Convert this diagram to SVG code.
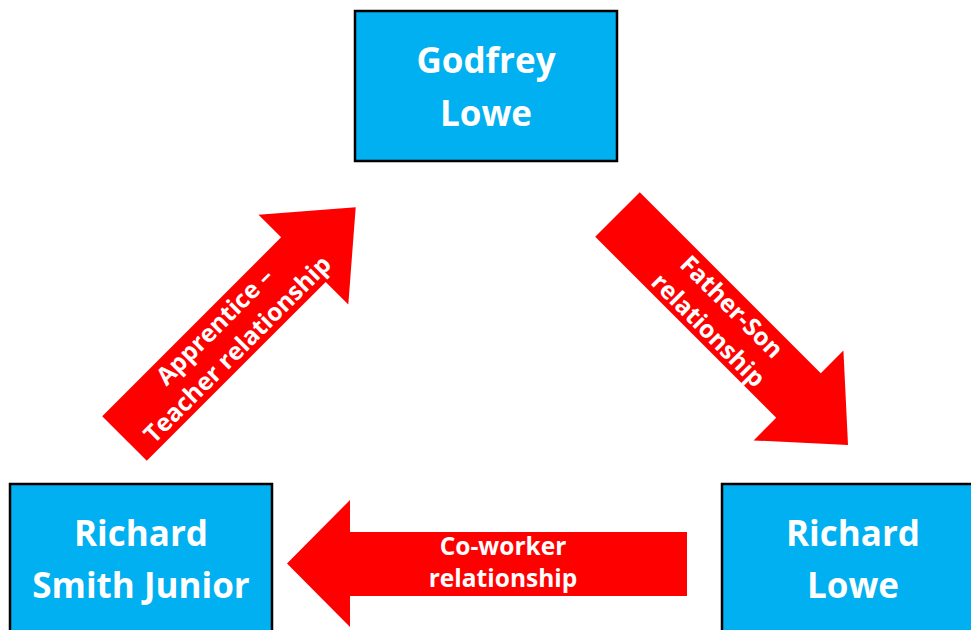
<svg xmlns="http://www.w3.org/2000/svg" width="971" height="630" viewBox="0 0 971 630">
<style>
.box{fill:#00B0F0;stroke:#000;stroke-width:2.5}
.nt{font-family:"Open Sans","Liberation Sans",sans-serif;font-weight:700;font-size:35px;fill:#fff;text-anchor:middle}
.arr{fill:#FF0000}
.at{font-family:"Open Sans","Liberation Sans",sans-serif;font-weight:700;font-size:24.5px;fill:#fff;text-anchor:middle}
</style>
<rect width="971" height="630" fill="#fff"/>
<g id="connectors">
  <g id="arrow-apprentice" transform="translate(124.5,438.5) rotate(-45)">
    <path class="arr" d="M0,-31.5 H253 V-63.5 L327,0 L253,63.5 V31.5 H0 Z"/>
    <text class="at" x="143" y="-7">Apprentice –</text>
    <text class="at" x="143" y="25">Teacher relationship</text>
  </g>
  <g id="arrow-fatherson" transform="translate(617.5,214.5) rotate(45)">
    <path class="arr" d="M0,-31.5 H256 V-63.5 L326,0 L256,63.5 V31.5 H0 Z"/>
    <text class="at" x="146" y="-7">Father-Son</text>
    <text class="at" x="146" y="26">relationship</text>
  </g>
  <g id="arrow-coworker">
    <path class="arr" d="M687,532 H350 V500 L287,563.5 L350,627 V596 H687 Z"/>
    <text class="at" x="503" y="555">Co-worker</text>
    <text class="at" x="503" y="587">relationship</text>
  </g>
</g>
<g id="node-godfrey">
  <rect class="box" x="355" y="11" width="262" height="150"/>
  <text class="nt" x="486" y="73">Godfrey</text>
  <text class="nt" x="486" y="126">Lowe</text>
</g>
<g id="node-richard-smith">
  <rect class="box" x="10" y="484" width="262" height="150"/>
  <text class="nt" x="141" y="546">Richard</text>
  <text class="nt" x="141" y="598">Smith Junior</text>
</g>
<g id="node-richard-lowe">
  <rect class="box" x="722" y="484" width="262" height="150"/>
  <text class="nt" x="853" y="546">Richard</text>
  <text class="nt" x="853" y="598">Lowe</text>
</g>
</svg>
